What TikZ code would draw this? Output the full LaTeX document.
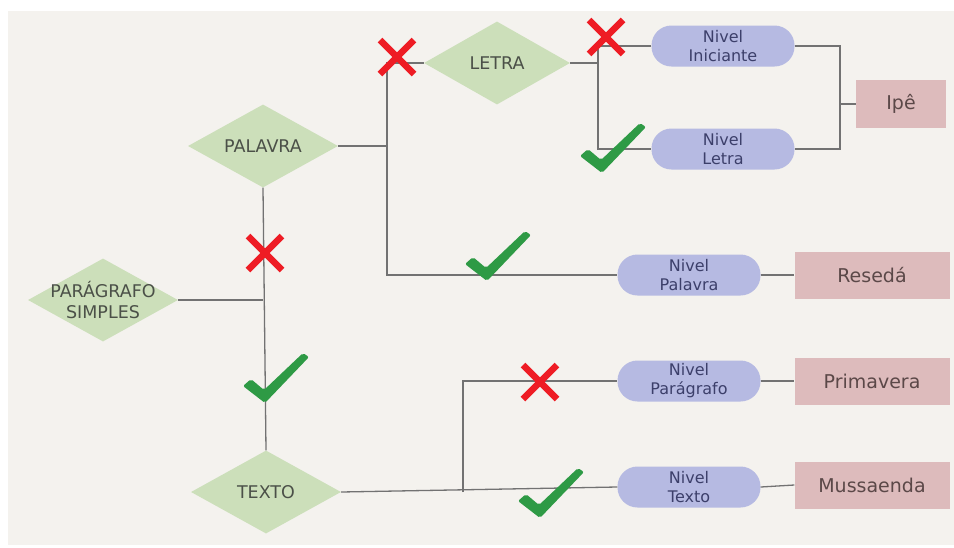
\documentclass[tikz,border=0pt]{standalone}
\usepackage{fontspec}
\setmainfont{DejaVu Sans}
\usetikzlibrary{shapes.geometric}
\definecolor{bgc}{HTML}{F4F2EE}
\definecolor{dia}{HTML}{CCDFBA}
\definecolor{diatxt}{HTML}{4B5048}
\definecolor{niv}{HTML}{B6BAE2}
\definecolor{nivtxt}{HTML}{3C3F6A}
\definecolor{pnk}{HTML}{DDBBBC}
\definecolor{pnktxt}{HTML}{5B4848}
\definecolor{ln}{HTML}{727272}
\definecolor{xred}{HTML}{EE1C24}
\definecolor{ckg}{HTML}{2E9A45}
\begin{document}
\begin{tikzpicture}[x=1pt,y=-1pt,
  dec/.style={diamond, fill=dia, inner sep=0pt, aspect=1.8, minimum width=150pt, minimum height=83pt,
    font=\fontsize{17.5}{21}\selectfont, text=diatxt, align=center},
  lvl/.style={rectangle, rounded corners=20pt, fill=niv, minimum width=143pt, minimum height=41pt, inner sep=0pt,
    font=\fontsize{16}{19}\selectfont, text=nivtxt, align=center},
  res/.style={rectangle, fill=pnk, minimum width=155pt, minimum height=47pt, inner sep=0pt,
    font=\fontsize{19}{22}\selectfont, text=pnktxt},
  con/.style={draw=ln, line width=1.3pt},
  redx/.pic={\draw[xred, line width=6.5pt] (-17,-17) -- (17,17) (-17,17) -- (17,-17);},
  gcheck/.pic={\fill[ckg, rounded corners=2pt] (-33,8) -- (-25,1) -- (-12,12) -- (27,-25) -- (33,-21) -- (-11,25) -- cycle;}
]
\useasboundingbox (0,0) rectangle (954,547);
\fill[white] (0,0) rectangle (954,547);
\fill[bgc] (8,11) rectangle (954,545);

% decision diamonds
\node[dec, minimum width=146pt] (letra) at (497,63) {LETRA};
\node[dec] (palavra) at (263,146) {PALAVRA};
\node[dec, inner sep=-6pt] (parag) at (103,300) {PARÁGRAFO\\SIMPLES};
\node[dec] (texto) at (266,492) {TEXTO};

% level pills
\node[lvl] (ini) at (723,46) {Nivel\\Iniciante};
\node[lvl] (nletra) at (723,149) {Nivel\\Letra};
\node[lvl] (npal) at (689,275) {Nivel\\Palavra};
\node[lvl] (npar) at (689,381) {Nivel\\Parágrafo};
\node[lvl] (ntex) at (689,487) {Nivel\\Texto};

% results
\node[res, minimum width=90pt, minimum height=48pt] (ipe) at (901,104) {Ipê};
\node[res] (reseda) at (872,275) {Resedá};
\node[res] (prim) at (872,381) {Primavera};
\node[res] (muss) at (872,485) {Mussaenda};

% junction coordinates
\coordinate (jp) at (387,0);
\coordinate (jl) at (598,0);
\coordinate (ji) at (840,0);
\coordinate (jt) at (463,0);

% connectors
\draw[con] (palavra.south) -- (texto.north);
\draw[con] (parag.east) -- (parag.east -| palavra.south);
\draw[con] (palavra.east) -- (palavra.east -| jp);
\draw[con] (letra.west) -- (letra.west -| jp) -- (npal.west -| jp) -- (npal.west);
\draw[con] (letra.east) -- (letra.east -| jl);
\draw[con] (ini.west) -- (ini.west -| jl) -- (nletra.west -| jl) -- (nletra.west);
\draw[con] (ini.east) -- (ini.east -| ji) -- (nletra.east -| ji) -- (nletra.east);
\draw[con] (ipe.west) -- (ipe.west -| ji);
\draw[con] (npal.east) -- (reseda.west);
\draw[con] (npar.east) -- (prim.west);
\draw[con] (ntex.east) -- (muss.west);
\draw[con] (texto.east) -- (ntex.west);
\draw[con] (texto.east -| jt) -- (npar.west -| jt) -- (npar.west);

% marks
\pic at (397,57) {redx};
\pic at (606,37) {redx};
\pic at (265,253) {redx};
\pic at (540,382) {redx};
\pic at (613,148) {gcheck};
\pic at (498,256) {gcheck};
\pic at (276,378) {gcheck};
\pic at (551,493) {gcheck};
\end{tikzpicture}
\end{document}
